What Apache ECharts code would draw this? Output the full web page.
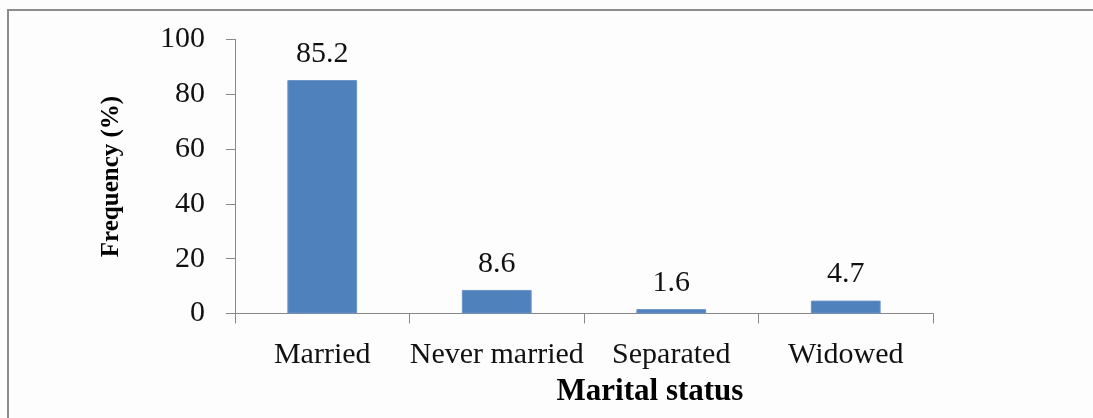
<!DOCTYPE html>
<html>
<head>
<meta charset="utf-8">
<script src="https://cdn.jsdelivr.net/npm/echarts@6/dist/echarts.min.js"></script>
<style>
html,body{margin:0;padding:0;background:#fdfdfd;}
#c{width:1093px;height:418px;}
</style>
</head>
<body>
<div id="c"></div>
<script>
const categories = ["Married", "Never married", "Separated", "Widowed"];
const frequency = [85.2, 8.6, 1.6, 4.7];
const yTicks = [0, 20, 40, 60, 80, 100];

const chart = echarts.init(document.getElementById('c'), null, {renderer: 'canvas'});
const font = 'Liberation Serif, Times New Roman, serif';
chart.setOption({
  backgroundColor: '#fdfdfd',
  animation: false,
  graphic: [{
    type: 'rect',
    shape: {x: 8, y: 10, width: 1200, height: 600},
    style: {fill: 'none', stroke: '#8c8c8c', lineWidth: 2},
    silent: true
  }],
  grid: {left: 235, right: 160, top: 39.5, bottom: 104.5, containLabel: false},
  xAxis: {
    type: 'category',
    data: categories,
    name: 'Marital status',
    nameLocation: 'middle',
    nameGap: 63,
    nameTextStyle: {fontFamily: font, fontWeight: 'bold', fontSize: 31, color: '#000', padding: [0, 0, 0, 132]},
    axisLine: {lineStyle: {color: '#888', width: 1}},
    axisTick: {show: true, alignWithLabel: false, length: 10, lineStyle: {color: '#888'}},
    axisLabel: {fontFamily: font, fontSize: 30, color: '#111', margin: 27, interval: 0}
  },
  yAxis: {
    type: 'value',
    min: yTicks[0],
    max: yTicks[yTicks.length - 1],
    interval: yTicks[1] - yTicks[0],
    name: 'Frequency (%)',
    nameLocation: 'middle',
    nameGap: 111,
    nameTextStyle: {fontFamily: font, fontWeight: 'bold', fontSize: 25, color: '#000'},
    axisLine: {show: true, lineStyle: {color: '#888', width: 1}},
    axisTick: {show: true, length: 9, lineStyle: {color: '#888'}},
    splitLine: {show: false},
    axisLabel: {fontFamily: font, fontSize: 30, color: '#111', margin: 30}
  },
  series: [{
    type: 'bar',
    data: frequency,
    barWidth: '40%',
    itemStyle: {color: '#4f81bd', borderColor: '#6b95c8', borderWidth: 1},
    label: {
      show: true,
      position: 'top',
      distance: 11,
      fontFamily: font,
      fontSize: 30,
      color: '#111',
      formatter: p => p.value.toFixed(1)
    }
  }]
});
</script>
</body>
</html>
